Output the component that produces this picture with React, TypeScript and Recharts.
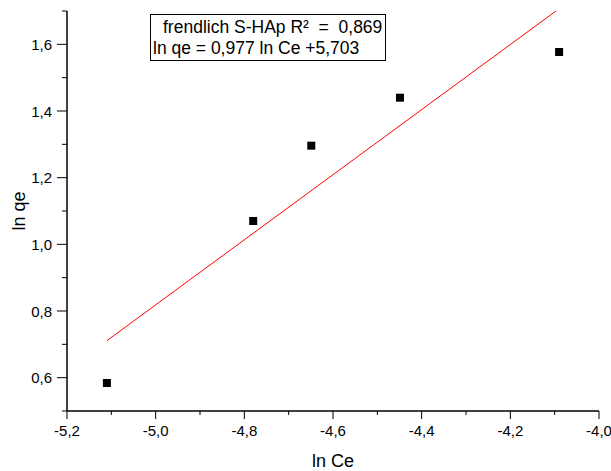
import React from 'react';
import { ScatterChart, Scatter, XAxis, YAxis } from 'recharts';

// measured points (ln Ce, ln qe)
const lnCe = [-5.11, -4.78, -4.649, -4.449, -4.09];
const lnQe = [0.584, 1.07, 1.296, 1.44, 1.577];

// linear fit ends: ln qe = 0,977 ln Ce + 5,703
const fitCe = [-5.11, -4.097];
const fitQe = [0.711, 1.7];

const xTicks = [-5.2, -5.1, -5.0, -4.9, -4.8, -4.7, -4.6, -4.5, -4.4, -4.3, -4.2, -4.1, -4.0];
const xMajor = [-5.2, -5.0, -4.8, -4.6, -4.4, -4.2, -4.0];
const yTicks = [0.5, 0.6, 0.7, 0.8, 0.9, 1.0, 1.1, 1.2, 1.3, 1.4, 1.5, 1.6, 1.7];
const yMajor = [0.6, 0.8, 1.0, 1.2, 1.4, 1.6];

const points = lnCe.map((x, i) => ({ x, y: lnQe[i] }));
const fit = fitCe.map((x, i) => ({ x, y: fitQe[i] }));

const FONT = '"Liberation Sans", Arial, sans-serif';
const fmt = (v: number) => v.toFixed(1).replace('.', ',');
const isIn = (list: number[], v: number) => list.some((m) => Math.abs(m - v) < 1e-6);

const XTick = (props: any) => {
  const { x, y, payload } = props;
  const major = isIn(xMajor, payload.value);
  return (
    <g>
      <line x1={x} x2={x} y1={y} y2={y + (major ? 8 : 4)} stroke="#000" strokeWidth={1} />
      {major && (
        <text x={x} y={y + 25} textAnchor="middle" fontSize={15} fontFamily={FONT} fill="#000">
          {fmt(payload.value)}
        </text>
      )}
    </g>
  );
};

const YTick = (props: any) => {
  const { x, y, payload } = props;
  const major = isIn(yMajor, payload.value);
  return (
    <g>
      <line x1={x - (major ? 10 : 5)} x2={x} y1={y} y2={y} stroke="#000" strokeWidth={1} />
      {major && (
        <text x={x - 15} y={y + 5.5} textAnchor="end" fontSize={15} fontFamily={FONT} fill="#000">
          {fmt(payload.value)}
        </text>
      )}
    </g>
  );
};

const Square = (props: any) => (
  <rect x={props.cx - 4} y={props.cy - 4} width={8} height={8} fill="#000" />
);

export default function App() {
  return (
    <div style={{ position: 'absolute', left: 0, top: 0, width: 611, height: 471, background: '#fff' }}>
      <ScatterChart width={611} height={471} margin={{ top: 11, right: 12, bottom: 0, left: 0 }}>
        <XAxis
          type="number"
          dataKey="x"
          domain={[-5.2, -4.0]}
          ticks={xTicks}
          interval={0}
          height={60}
          tickLine={false}
          tickSize={0}
          tickMargin={0}
          tick={XTick}
          axisLine={{ stroke: '#000', strokeWidth: 1.5 }}
          label={{
            content: ({ viewBox }: any) => (
              <text
                x={viewBox.x + viewBox.width / 2}
                y={467}
                textAnchor="middle"
                fontSize={18}
                fontFamily={FONT}
                fill="#000"
              >
                ln Ce
              </text>
            ),
          }}
        />
        <XAxis
          xAxisId="top"
          orientation="top"
          type="number"
          domain={[-5.2, -4.0]}
          height={0}
          tick={false}
          tickLine={false}
          axisLine={{ stroke: '#222', strokeWidth: 1 }}
        />
        <YAxis
          type="number"
          dataKey="y"
          domain={[0.5, 1.7]}
          ticks={yTicks}
          interval={0}
          width={67}
          tickLine={false}
          tickSize={0}
          tickMargin={0}
          tick={YTick}
          axisLine={{ stroke: '#000', strokeWidth: 1.5 }}
          label={{
            content: ({ viewBox }: any) => {
              const cy = viewBox.y + viewBox.height / 2;
              return (
                <text
                  x={25}
                  y={cy}
                  textAnchor="middle"
                  fontSize={18}
                  fontFamily={FONT}
                  fill="#000"
                  transform={`rotate(-90, 25, ${cy})`}
                >
                  ln qe
                </text>
              );
            },
          }}
        />
        <YAxis
          yAxisId="right"
          orientation="right"
          type="number"
          domain={[0.5, 1.7]}
          width={0}
          tick={false}
          tickLine={false}
          axisLine={{ stroke: '#777', strokeWidth: 1 }}
        />
        <Scatter
          data={fit}
          line={{ stroke: '#ff0000', strokeWidth: 1 }}
          shape={() => <g />}
          isAnimationActive={false}
        />
        <Scatter data={points} shape={Square} isAnimationActive={false} />
      </ScatterChart>
      <div
        style={{
          position: 'absolute',
          left: 150,
          top: 14,
          width: 236,
          height: 47,
          boxSizing: 'border-box',
          border: '1px solid #000',
          background: '#fff',
          fontFamily: FONT,
          fontSize: 17.5,
          lineHeight: '21px',
          padding: '2px 0 0 2px',
          color: '#000',
          whiteSpace: 'nowrap',
        }}
      >
        <div style={{ paddingLeft: 10 }}>frendlich S-HAp R²&nbsp; = &nbsp;0,869</div>
        <div>ln qe = 0,977 ln Ce +5,703</div>
      </div>
    </div>
  );
}
